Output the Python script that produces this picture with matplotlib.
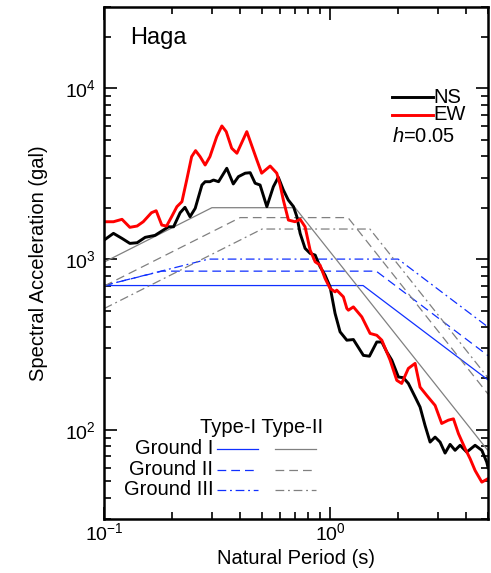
import matplotlib
matplotlib.use("Agg")
import matplotlib.pyplot as plt
from matplotlib.ticker import LogLocator, NullFormatter

plt.rcParams['font.family'] = ['Liberation Sans', 'DejaVu Sans']
plt.rcParams['mathtext.fontset'] = 'custom'
plt.rcParams['mathtext.rm'] = 'Liberation Sans'
plt.rcParams['mathtext.it'] = 'Liberation Sans:italic'
plt.rcParams['axes.unicode_minus'] = False

# observed spectra (Haga station), period in s, acceleration in gal
ns_T = [0.10, 0.110, 0.120, 0.130, 0.140, 0.152, 0.168, 0.183, 0.193, 0.203,
        0.217, 0.228, 0.240, 0.253, 0.271, 0.280, 0.294, 0.305, 0.321, 0.349,
        0.373, 0.393, 0.421, 0.443, 0.466, 0.490, 0.525, 0.561, 0.590, 0.621,
        0.653, 0.689, 0.713, 0.737, 0.775, 0.816, 0.859, 0.903, 0.950, 1.0,
        1.052, 1.107, 1.186, 1.268, 1.404, 1.493, 1.609, 1.694, 1.782, 1.875,
        2.006, 2.110, 2.220, 2.377, 2.501, 2.632, 2.770, 2.915, 3.067, 3.227,
        3.396, 3.573, 3.760, 4.024, 4.382, 4.693, 4.934, 5.0]
ns_S = [1292, 1415, 1322, 1236, 1247, 1341, 1377, 1480, 1546, 1546,
        1869, 2010, 1771, 1982, 2716, 2840, 2840, 2904, 2840, 3403,
        2755, 3040, 3185, 3207, 2781, 2716, 2028, 2655, 3015, 2541,
        2219, 2028, 1771, 1415, 1156, 1080, 1055, 902, 806, 688,
        481, 375, 335, 338, 273, 270, 327, 327, 286, 256,
        204, 202, 187, 156, 136, 106, 84.8, 90.7, 84.8, 73.1,
        82.2, 75.9, 81.2, 74.1, 81.2, 75.9, 64.7, 60]

ew_T = [0.100, 0.110, 0.120, 0.130, 0.140, 0.149, 0.162, 0.170, 0.180, 0.189,
        0.199, 0.210, 0.221, 0.232, 0.244, 0.254, 0.266, 0.280, 0.294, 0.315,
        0.332, 0.347, 0.367, 0.387, 0.428, 0.474, 0.498, 0.543, 0.581, 0.601,
        0.621, 0.654, 0.700, 0.737, 0.775, 0.816, 0.859, 0.903, 0.950, 1.0,
        1.052, 1.070, 1.145, 1.186, 1.205, 1.268, 1.381, 1.503, 1.609, 1.694,
        1.843, 1.973, 2.074, 2.220, 2.377, 2.501, 2.678, 2.915, 3.118, 3.338,
        3.514, 3.698, 3.960, 4.164, 4.382, 4.693, 5.0]
ew_S = [1655, 1655, 1710, 1535, 1562, 1655, 1869, 1920, 1582, 1562,
        1771, 2028, 2168, 2904, 3981, 4318, 3981, 3556, 3981, 5209,
        6022, 5579, 4458, 4168, 5579, 3810, 3185, 3508, 3185, 2716,
        2219, 1693, 1655, 1710, 1546, 1129, 964, 922, 771, 673,
        643, 658, 601, 514, 502, 525, 459, 367, 358, 335,
        256, 195, 187, 229, 245, 178, 159, 139, 109, 114,
        116, 95, 77.6, 67.8, 57.8, 49.4, 51.8]

# design spectra, corner points
t1_g1_T = [0.1, 1.4, 5.0]
t1_g1_S = [700, 700, 196]
t1_g2_T = [0.1, 0.18, 1.6, 5.0]
t1_g2_S = [700, 850, 850, 272]
t1_g3_T = [0.1, 0.29, 2.0, 5.0]
t1_g3_S = [700, 1000, 1000, 400]
t2_g1_T = [0.1, 0.3, 0.7, 5.0]
t2_g1_S = [960, 2000, 2000, 75.5]
t2_g2_T = [0.1, 0.4, 1.2, 5.0]
t2_g2_S = [695, 1750, 1750, 162]
t2_g3_T = [0.1, 0.5, 1.5, 5.0]
t2_g3_S = [513, 1500, 1500, 201.6]

blue = '#1030ff'
gray = '#808080'
dashed = (0, (7, 4))
dashdot = (0, (7, 3, 1.5, 3))

fig = plt.figure(figsize=(4.91, 5.73), dpi=100)
ax = fig.add_axes([0.212, 0.094, 0.782, 0.894])

ax.plot(t1_g1_T, t1_g1_S, color=blue, lw=0.9)
ax.plot(t1_g2_T, t1_g2_S, color=blue, lw=0.9, ls=dashed)
ax.plot(t1_g3_T, t1_g3_S, color=blue, lw=0.9, ls=dashdot)
ax.plot(t2_g1_T, t2_g1_S, color=gray, lw=0.9)
ax.plot(t2_g2_T, t2_g2_S, color=gray, lw=0.9, ls=dashed)
ax.plot(t2_g3_T, t2_g3_S, color=gray, lw=0.9, ls=dashdot)

ax.plot(ns_T, ns_S, color='black', lw=2.1)
ax.plot(ew_T, ew_S, color='red', lw=2.1)

ax.set_xscale('log')
ax.set_yscale('log')
ax.set_xlim(0.1, 5)
ax.set_ylim(30, 30000)

ax.xaxis.set_major_locator(LogLocator(base=10, numticks=10))
ax.xaxis.set_minor_locator(LogLocator(base=10, subs=range(2, 10), numticks=20))
ax.xaxis.set_minor_formatter(NullFormatter())
ax.yaxis.set_minor_locator(LogLocator(base=10, subs=range(2, 10), numticks=20))
ax.yaxis.set_minor_formatter(NullFormatter())

ax.tick_params(which='both', direction='in', top=True, right=True, width=1.2)
ax.tick_params(which='major', length=9, labelsize=14)
ax.tick_params(axis='x', which='major', pad=2)
ax.tick_params(axis='y', which='major', pad=6)
ax.tick_params(which='minor', length=5)
for s in ax.spines.values():
    s.set_linewidth(1.8)

ax.set_xlabel('Natural Period (s)', fontsize=14.5, labelpad=4)
ax.set_ylabel('Spectral Acceleration (gal)', fontsize=14.5, labelpad=12)

ax.text(0.068, 0.939, 'Haga', transform=ax.transAxes, fontsize=17, va='center')

# NS / EW key
tr = ax.transAxes
ax.plot([0.75, 0.857], [0.824, 0.824], color='black', lw=2.1, transform=tr)
ax.plot([0.75, 0.857], [0.789, 0.789], color='red', lw=2.1, transform=tr)
ax.text(0.857, 0.824, 'NS', transform=tr, fontsize=14.5, va='center')
ax.text(0.857, 0.789, 'EW', transform=tr, fontsize=14.5, va='center')
ax.text(0.75, 0.746, '$h$=0.05', transform=tr, fontsize=14.5, va='center')

# design spectra key
ax.text(0.409, 0.178, 'Type-I Type-II', transform=tr, fontsize=14.5,
        ha='center', va='center')
rows = [('Ground I', 0.137, '-'), ('Ground II', 0.096, dashed),
        ('Ground III', 0.057, dashdot)]
for lab, yy, ls in rows:
    ax.text(0.284, yy, lab, transform=tr, fontsize=14.5, ha='right', va='center')
    ax.plot([0.294, 0.401], [yy, yy], color=blue, lw=0.9, ls=ls, transform=tr)
    ax.plot([0.445, 0.552], [yy, yy], color=gray, lw=0.9, ls=ls, transform=tr)

fig.savefig('out.png', dpi=100)
